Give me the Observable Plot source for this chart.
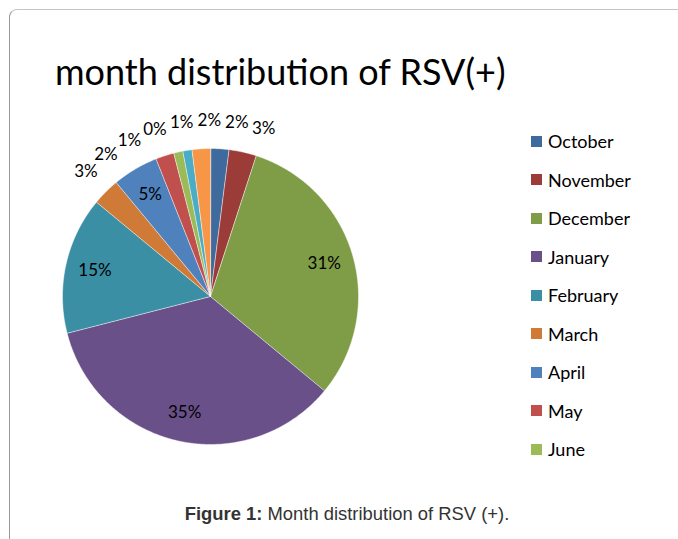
<!DOCTYPE html>
<html>
<head>
<meta charset="utf-8">
<script src="https://cdn.jsdelivr.net/npm/d3@7"></script>
<script src="https://cdn.jsdelivr.net/npm/@observablehq/plot@0.6"></script>
<style>
  html, body { margin: 0; padding: 0; background: #fff; }
  #page { position: relative; width: 678px; height: 539px; overflow: hidden; font-family: Lato, "Open Sans", sans-serif; }
  #frame { position: absolute; left: 9px; top: 9px; width: 700px; height: 560px; border: 1px solid #c4c4c4; border-left-color: #9a9a9a; border-radius: 8px; box-sizing: border-box; }
  #title { position: absolute; left: 55px; top: 49px; font-size: 36px; color: #000; white-space: nowrap; }
  #chart { position: absolute; left: 0; top: 100px; }
  #legend { position: absolute; left: 531px; top: 122px; }
  .item { display: flex; align-items: center; height: 38.5px; font-size: 18px; color: #000; }
  .sw { width: 11px; height: 11px; margin-right: 6px; }
  #caption { position: absolute; left: 0; width: 694px; top: 503px; text-align: center; font-family: "Liberation Sans", Arial, sans-serif; font-size: 18.4px; color: #333; }
</style>
</head>
<body>
<div id="page">
  <div id="frame"></div>
  <div id="title">month distribution of RSV(+)</div>
  <div id="chart"></div>
  <div id="legend"></div>
  <div id="caption"><b>Figure 1:</b> Month distribution of RSV (+).</div>
</div>
<script>
// ---- data ----
const months = ["October","November","December","January","February","March","April","May","June","July","August","September"];
const percents = [2, 3, 31, 35, 15, 3, 5, 2, 1, 0, 1, 2];
const colors = ["#3e6a9d","#9c3c39","#7f9c46","#6a5089","#3a8fa4","#d07a38","#4f81bd","#c0504d","#9bbb59","#8064a2","#4bacc6","#f79646"];
const legendCount = 9; // legend in the reference is cut after June

// ---- layout constants ----
const R = 148;           // pie radius in px
const W = 420, H = 400;  // svg size
const cx = 210, cy = 196; // pie centre inside svg

// ---- geometry from data ----
const total = d3.sum(percents);
let cum = 0;
const slices = months.map((m, i) => {
  const a0 = cum / total * 2 * Math.PI;
  cum += percents[i];
  const a1 = cum / total * 2 * Math.PI;
  return {month: m, value: percents[i], a0, a1, mid: (a0 + a1) / 2};
});

const poly = [];
for (const s of slices) {
  if (s.value <= 0) continue;
  poly.push({month: s.month, x: 0, y: 0});
  const n = Math.max(2, Math.ceil((s.a1 - s.a0) / (Math.PI / 360)));
  for (let k = 0; k <= n; k++) {
    const a = s.a0 + (s.a1 - s.a0) * k / n;
    poly.push({month: s.month, x: Math.sin(a), y: Math.cos(a)});
  }
}

// labels: inside for large slices, outside (spread apart) for small slices
const insideLabels = slices.filter(s => s.value >= 5).map(s => ({
  label: s.value + "%", x: 0.8 * Math.sin(s.mid), y: 0.8 * Math.cos(s.mid)
}));
const outs = slices.filter(s => s.value < 5).map(s => {
  let a = s.mid; if (a > Math.PI) a -= 2 * Math.PI;
  return {s, a};
});
// separate the crowded labels near the top
const crowded = outs.filter(o => Math.abs(o.a) < Math.PI / 4).sort((p, q) => p.a - q.a);
const minSep = 9 * Math.PI / 180;
for (let it = 0; it < 300; it++) {
  for (let i = 0; i < crowded.length - 1; i++) {
    const d = crowded[i + 1].a - crowded[i].a;
    if (d < minSep) {
      const push = (minSep - d) / 2;
      crowded[i].a -= push; crowded[i + 1].a += push;
    }
  }
}
for (const o of crowded) o.a -= 4 * Math.PI / 180;
const outsideLabels = outs.map(o => ({
  label: o.s.value + "%", x: 1.19 * Math.sin(o.a), y: 1.19 * Math.cos(o.a)
}));

const chart = Plot.plot({
  width: W, height: H,
  margin: 0,
  x: {domain: [-cx / R, (W - cx) / R], axis: null},
  y: {domain: [-(H - cy) / R, cy / R], axis: null},
  color: {domain: months, range: colors},
  style: {background: "transparent", overflow: "visible"},
  marks: [
    Plot.line(poly, {x: "x", y: "y", z: "month", fill: "month", stroke: "#ffffff", strokeWidth: 0.6, strokeOpacity: 0.8, curve: "linear-closed"}),
    Plot.text(insideLabels, {x: "x", y: "y", text: "label", fontSize: 17, fill: "#000", fontFamily: "Lato, 'Open Sans', sans-serif"}),
    Plot.text(outsideLabels, {x: "x", y: "y", text: "label", fontSize: 17, fill: "#000", fontFamily: "Lato, 'Open Sans', sans-serif"})
  ]
});
document.getElementById("chart").appendChild(chart);

// legend
const leg = document.getElementById("legend");
months.slice(0, legendCount).forEach((m, i) => {
  const row = document.createElement("div");
  row.className = "item";
  const sw = document.createElement("span");
  sw.className = "sw";
  sw.style.background = colors[i];
  const t = document.createElement("span");
  t.textContent = m;
  row.appendChild(sw); row.appendChild(t);
  leg.appendChild(row);
});
</script>
</body>
</html>
